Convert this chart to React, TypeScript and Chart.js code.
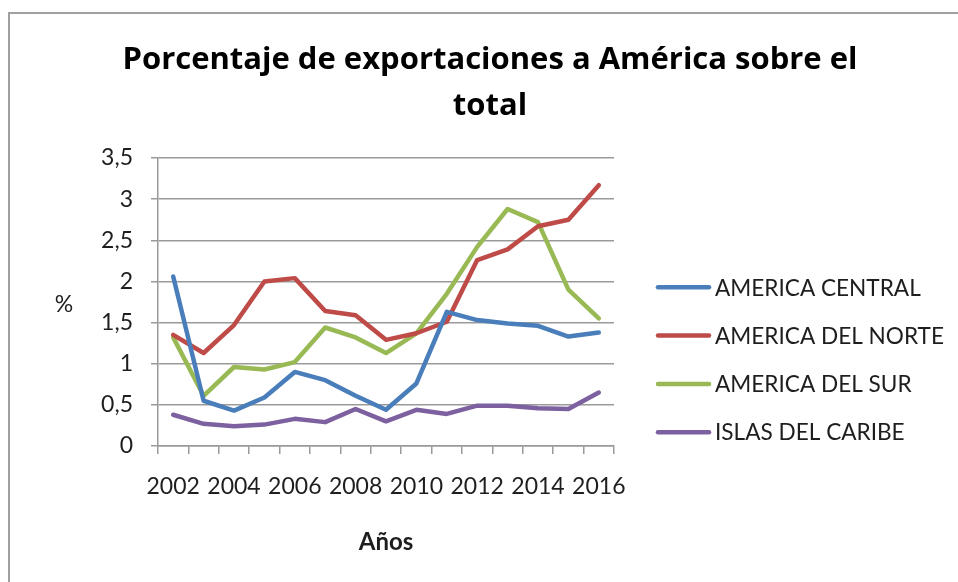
import React, { useEffect, useRef } from 'react';
import { Chart, registerables } from 'chart.js';

Chart.register(...registerables);

const years = ['2002', '2003', '2004', '2005', '2006', '2007', '2008', '2009', '2010', '2011', '2012', '2013', '2014', '2015', '2016'];
const americaCentral = [2.06, 0.55, 0.43, 0.59, 0.9, 0.8, 0.61, 0.44, 0.76, 1.63, 1.53, 1.49, 1.46, 1.33, 1.38];
const americaNorte = [1.35, 1.13, 1.47, 2.0, 2.04, 1.64, 1.59, 1.29, 1.37, 1.51, 2.26, 2.39, 2.67, 2.75, 3.17];
const americaSur = [1.32, 0.61, 0.96, 0.93, 1.02, 1.44, 1.32, 1.13, 1.37, 1.85, 2.42, 2.88, 2.72, 1.9, 1.55];
const islasCaribe = [0.38, 0.27, 0.24, 0.26, 0.33, 0.29, 0.45, 0.3, 0.44, 0.39, 0.49, 0.49, 0.46, 0.45, 0.65];
const seriesNames = ['AMERICA CENTRAL', 'AMERICA DEL NORTE', 'AMERICA DEL SUR', 'ISLAS DEL CARIBE'];
const seriesColors = ['#4A7EBB', '#BE4B48', '#98B954', '#7D60A0'];
const titleLines = ['Porcentaje de exportaciones a América sobre el', 'total'];
const xTitle = 'Años';
const yTitle = '%';

const GRID = '#9a9a9a';
const TEXT = '#1e1e1e';
const FONT = 'Lato';
const TITLE_FONT = 'Open Sans';

const extrasPlugin = {
  id: 'extras',
  afterDraw(chart: any) {
    const { ctx, chartArea } = chart;
    ctx.save();
    ctx.font = `23px ${FONT}`;
    ctx.fillStyle = TEXT;
    ctx.textBaseline = 'middle';
    ctx.textAlign = 'center';
    ctx.fillText(yTitle, 54, 291);
    ctx.textAlign = 'left';
    chart.data.datasets.forEach((ds: any, i: number) => {
      const y = chartArea.top + 129.3 + i * 48.3;
      ctx.strokeStyle = ds.borderColor;
      ctx.lineWidth = 4.5;
      ctx.lineCap = 'round';
      ctx.beginPath();
      ctx.moveTo(chartArea.right + 44, y);
      ctx.lineTo(chartArea.right + 95, y);
      ctx.stroke();
      ctx.font = `22.6px ${FONT}`;
      ctx.fillStyle = TEXT;
      ctx.fillText(ds.label, chartArea.right + 101, y + 1);
    });
    ctx.restore();
  },
};

export default function App() {
  const ref = useRef<HTMLCanvasElement>(null);

  useEffect(() => {
    const canvas = ref.current;
    if (!canvas) return;
    Chart.defaults.font.family = FONT;
    const seriesValues = [americaCentral, americaNorte, americaSur, islasCaribe];
    const chart = new Chart(canvas, {
      type: 'line',
      data: {
        labels: years,
        datasets: seriesValues.map((vals, i) => ({
          label: seriesNames[i],
          data: vals,
          borderColor: seriesColors[i],
          backgroundColor: seriesColors[i],
          borderWidth: 4.5,
          pointRadius: 0,
          pointHoverRadius: 0,
          tension: 0,
          borderCapStyle: 'round' as const,
          borderJoinStyle: 'round' as const,
          yAxisID: 'y',
        })),
      },
      options: {
        responsive: false,
        animation: false,
        layout: { padding: { left: 12, right: 0, top: 0, bottom: 0 } },
        plugins: {
          legend: { display: false },
          tooltip: { enabled: false },
          title: {
            display: true,
            text: titleLines,
            color: '#000',
            font: { family: TITLE_FONT, size: 31, weight: 'bold', lineHeight: 46 / 31 },
            padding: { top: 23, bottom: 29 },
          },
        },
        scales: {
          x: {
            type: 'category',
            offset: true,
            grid: {
              display: true,
              drawOnChartArea: false,
              drawTicks: true,
              tickLength: 8,
              offset: true,
              color: GRID,
              lineWidth: 1.5,
            },
            border: { display: true, color: GRID, width: 1.5 },
            ticks: {
              autoSkip: false,
              maxRotation: 0,
              minRotation: 0,
              padding: 19,
              color: TEXT,
              font: { family: FONT, size: 23 },
              callback: (_v: any, idx: number) => (idx % 2 === 0 ? years[idx] : ''),
            },
            title: {
              display: true,
              text: xTitle,
              color: TEXT,
              font: { family: FONT, size: 24, weight: 'bold', lineHeight: 1.2 },
              padding: { top: 0, bottom: 25 },
            },
            afterFit: (scale: any) => {
              scale.height = 136;
            },
          },
          y: {
            type: 'linear',
            position: 'left',
            min: 0,
            max: 3.5,
            grid: {
              color: GRID,
              lineWidth: 1.5,
              drawTicks: true,
              tickLength: 7,
            },
            border: { display: true, color: GRID, width: 1.5 },
            ticks: {
              stepSize: 0.5,
              padding: 18,
              color: TEXT,
              font: { family: FONT, size: 23 },
              callback: (v: any) => String(v).replace('.', ','),
            },
            afterFit: (scale: any) => {
              scale.width = 136;
            },
          },
          legendSpace: {
            type: 'linear',
            position: 'right',
            display: true,
            grid: { display: false, drawTicks: false },
            border: { display: false },
            ticks: { display: false },
            afterFit: (scale: any) => {
              scale.width = 344;
            },
          },
        },
      },
      plugins: [extrasPlugin],
    } as any);
    return () => chart.destroy();
  }, []);

  return (
    <div
      style={{
        position: 'fixed',
        left: 8,
        top: 12,
        right: 0,
        bottom: 0,
        overflow: 'hidden',
        borderTop: '2px solid #a0a0a0',
        borderLeft: '2px solid #a0a0a0',
        background: '#fff',
      }}
    >
      <canvas ref={ref} width={948} height={568} style={{ display: 'block', width: 948, height: 568 }} />
    </div>
  );
}
